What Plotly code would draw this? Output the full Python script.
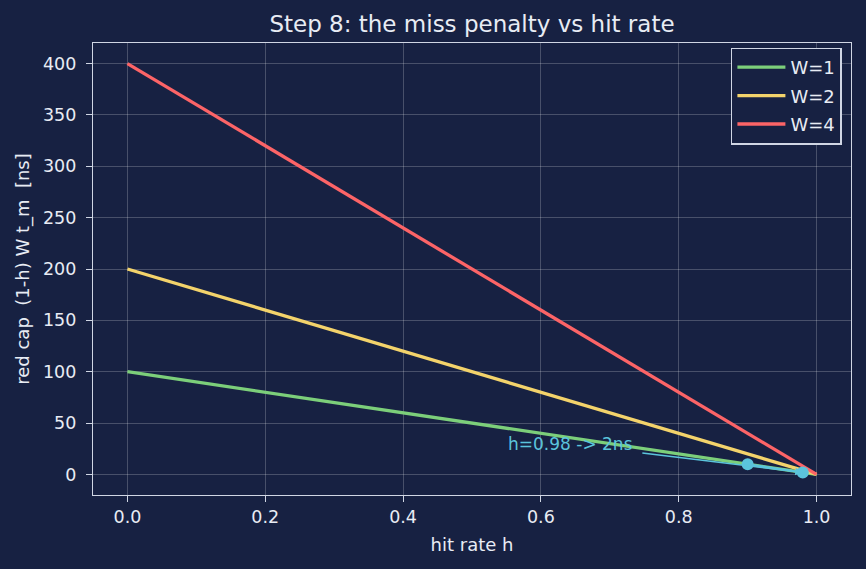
import plotly.graph_objects as go

h = [0.0, 1.0]
widths = [1, 2, 4]
labels = ["W=1", "W=2", "W=4"]
t_m = 100
colors = ["#7ccf7a", "#f3d36b", "#fc6467"]
pts_h = [0.9, 0.98]
pts_v = [10, 2]

bg = "#172142"
fg = "#e8ecf4"
fig = go.Figure()
for w, lab, c in zip(widths, labels, colors):
    fig.add_trace(go.Scatter(x=h, y=[(1 - hh) * w * t_m for hh in h], mode="lines",
                             name=lab, legendgroup=lab, line=dict(color=c, width=3.3)))
fig.add_trace(go.Scatter(x=pts_h, y=pts_v, mode="lines+markers", showlegend=False,
                         line=dict(color="#5bc4dc", width=2),
                         marker=dict(color="#5bc4dc", size=12)))

fig.add_annotation(x=0.55, y=30, xref="x", yref="y", text="h=0.98 -> 2ns", showarrow=False,
                   xanchor="left", yanchor="middle", font=dict(color="#5bc4dc", size=17,
                   family="DejaVu Sans"))
fig.add_annotation(x=pts_h[1], y=pts_v[1], ax=0.745, ay=21, xref="x", yref="y", axref="x", ayref="y",
                   text="", showarrow=True, arrowhead=2, arrowsize=1, arrowwidth=1.5,
                   arrowcolor="#5bc4dc")

axis_common = dict(showgrid=True, gridcolor="rgba(255,255,255,0.21)", gridwidth=1,
                   showline=True, linecolor="#d0d6e4", linewidth=1.2, mirror=True,
                   ticks="outside", tickcolor="#d0d6e4", ticklen=6,
                   tickfont=dict(color=fg, size=17.5), zeroline=False)
fig.update_xaxes(range=[-0.05, 1.05], tickvals=[0, 0.2, 0.4, 0.6, 0.8, 1.0],
                 ticktext=["0.0", "0.2", "0.4", "0.6", "0.8", "1.0"],
                 title=dict(text="hit rate h", font=dict(color=fg, size=18), standoff=12), **axis_common)
fig.update_yaxes(range=[-20, 420], tickvals=[0, 50, 100, 150, 200, 250, 300, 350, 400],
                 title=dict(text="red cap  (1-h) W t_m  [ns]", font=dict(color=fg, size=18), standoff=8),
                 ticklabelstandoff=6, **axis_common)
fig.update_layout(width=866, height=569, paper_bgcolor=bg, plot_bgcolor=bg,
                  font=dict(family="DejaVu Sans", color=fg, size=17.5),
                  margin=dict(l=93, r=15, t=43, b=74),
                  title=dict(text="Step 8: the miss penalty vs hit rate", x=0.5, xref="paper",
                             xanchor="center", y=1 - 24/569, yanchor="middle",
                             font=dict(size=23, color=fg)),
                  legend=dict(x=0.988, y=0.99, xanchor="right", yanchor="top", bgcolor=bg,
                              bordercolor="#d0d6e4", borderwidth=1.5, font=dict(size=18, color=fg),
                              tracegroupgap=2, itemwidth=48),
                  showlegend=True)
fig.write_html("out.html")
